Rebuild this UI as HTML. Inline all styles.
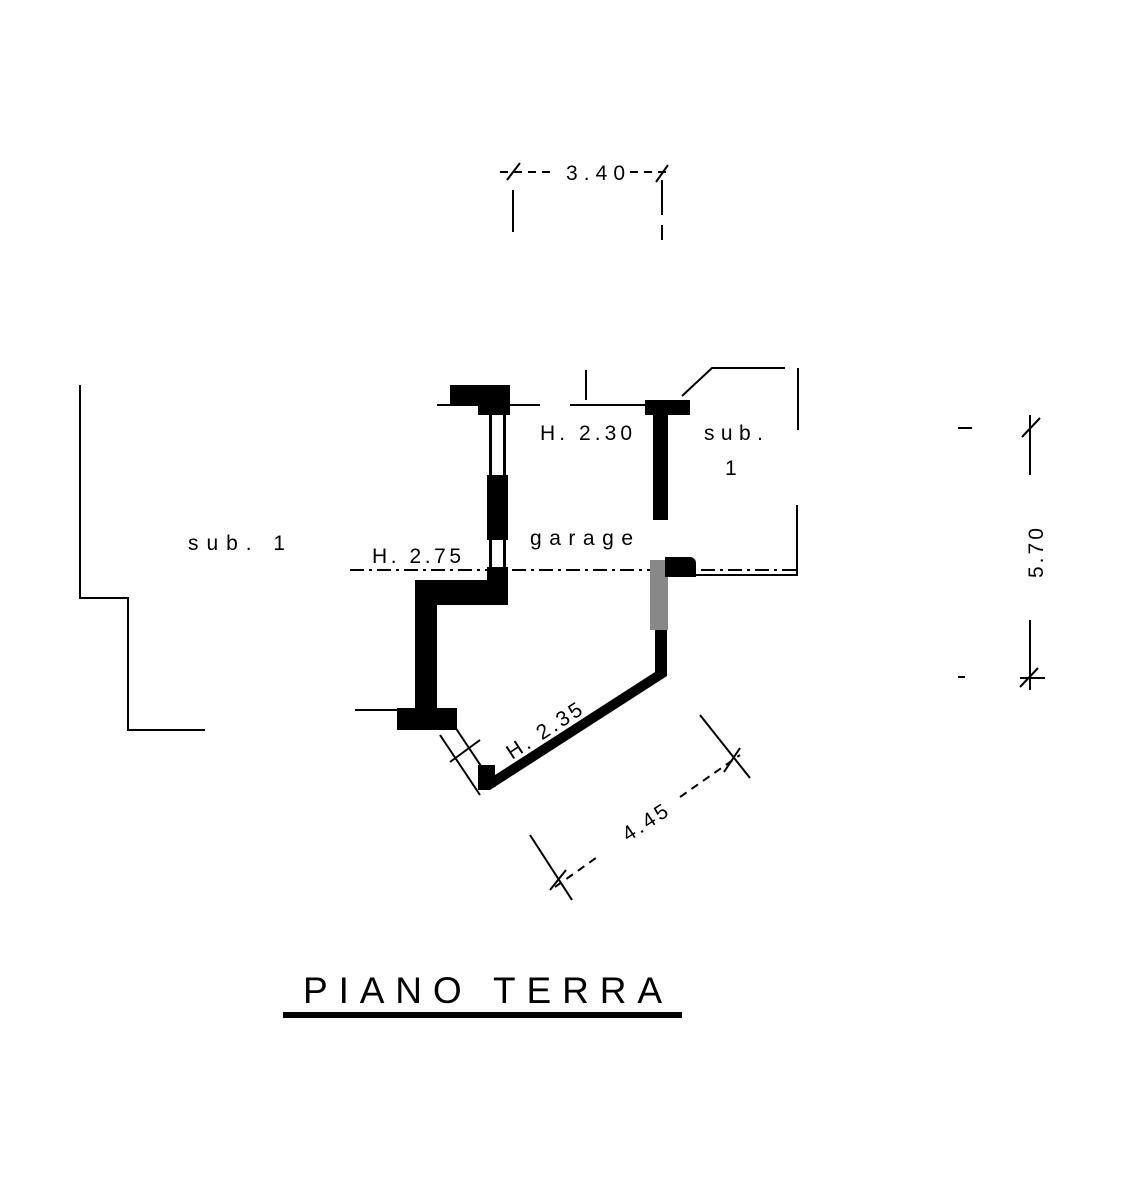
<!DOCTYPE html><html><head><style>body{margin:0;background:#fff}svg{display:block}text{font-family:"Liberation Sans",sans-serif;fill:#000}</style></head><body>
<svg width="1123" height="1200" viewBox="0 0 1123 1200">
<g stroke="#000" stroke-width="2" fill="none">
<line x1="500" y1="172" x2="550" y2="172" stroke-dasharray="8 6"/><line x1="630" y1="172" x2="672" y2="172" stroke-dasharray="8 6"/>
<line x1="507" y1="180" x2="520" y2="163"/><line x1="656" y1="182" x2="668" y2="165"/>
<line x1="513" y1="190" x2="513" y2="232"/><line x1="662" y1="180" x2="662" y2="215"/><line x1="662" y1="225" x2="662" y2="240"/>
<polyline points="80,385 80,598 128,598 128,730 205,730"/>
<polyline points="682,396 712,368 785,368"/><line x1="798" y1="368" x2="798" y2="430"/><polyline points="797,505 797,575 680,575"/>
<line x1="350" y1="570" x2="800" y2="570" stroke-dasharray="14 5 3 5"/>
<line x1="437" y1="405" x2="540" y2="405"/><line x1="570" y1="405" x2="645" y2="405"/>
<line x1="586" y1="370" x2="586" y2="400"/>
<line x1="355" y1="710" x2="410" y2="710"/>
<line x1="958" y1="428" x2="972" y2="428"/><line x1="1030" y1="415" x2="1030" y2="475"/><line x1="1030" y1="620" x2="1030" y2="690"/>
<line x1="1022" y1="437" x2="1040" y2="418"/><line x1="1020" y1="687" x2="1038" y2="668"/><line x1="1020" y1="678" x2="1045" y2="678"/><line x1="958" y1="677" x2="965" y2="677"/>
<line x1="530" y1="835" x2="572" y2="900"/><line x1="700" y1="715" x2="750" y2="778"/>
<line x1="555" y1="887" x2="600" y2="855" stroke-dasharray="8 6"/><line x1="680" y1="797" x2="740" y2="755" stroke-dasharray="8 6"/>
<line x1="550" y1="890" x2="566" y2="870"/><line x1="724" y1="772" x2="740" y2="748"/>
<line x1="440" y1="735" x2="480" y2="795"/><line x1="455" y1="727" x2="495" y2="787"/><line x1="450" y1="762" x2="480" y2="740"/>
</g>
<g fill="#000">
<rect x="450" y="385" width="60" height="20"/><rect x="478" y="400" width="32" height="15"/>
<rect x="487" y="475" width="21" height="65"/>
<rect x="489" y="415" width="3" height="60"/><rect x="503" y="415" width="3" height="60"/>
<rect x="489" y="540" width="3" height="28"/><rect x="503" y="540" width="3" height="28"/>
<rect x="487" y="567" width="21" height="38"/><rect x="415" y="580" width="93" height="25"/>
<rect x="415" y="580" width="22" height="135"/><rect x="397" y="708" width="60" height="22"/>
<polygon points="478,765 495,765 495,775 655,672 655,628 667,628 667,676 490,790 478,790"/>
<rect x="650" y="560" width="18" height="70" fill="#888"/><path d="M665,557 H690 a6,6 0 0 1 6,6 V577 H665Z"/>
<rect x="653" y="408" width="15" height="112"/><rect x="645" y="400" width="45" height="15"/>
</g>
<g font-size="21" letter-spacing="3">
<text x="566" y="180" textLength="62">3.40</text>
<text x="540" y="440" textLength="95">H. 2.30</text><text x="704" y="440" textLength="62">sub.</text><text x="725" y="475">1</text>
<text x="188" y="550" textLength="100">sub. 1</text><text x="372" y="563" textLength="92">H. 2.75</text><text x="530" y="545" textLength="106">garage</text>
<text transform="translate(1043,578) rotate(-90)">5.70</text>
<text transform="translate(512,760) rotate(-33)">H. 2.35</text>
<text transform="translate(628,842) rotate(-33)">4.45</text>
</g>
<text x="303" y="1003" font-size="37" textLength="359" lengthAdjust="spacing">PIANO  TERRA</text>
<rect x="283" y="1012" width="399" height="6" fill="#000"/>
</svg></body></html>
